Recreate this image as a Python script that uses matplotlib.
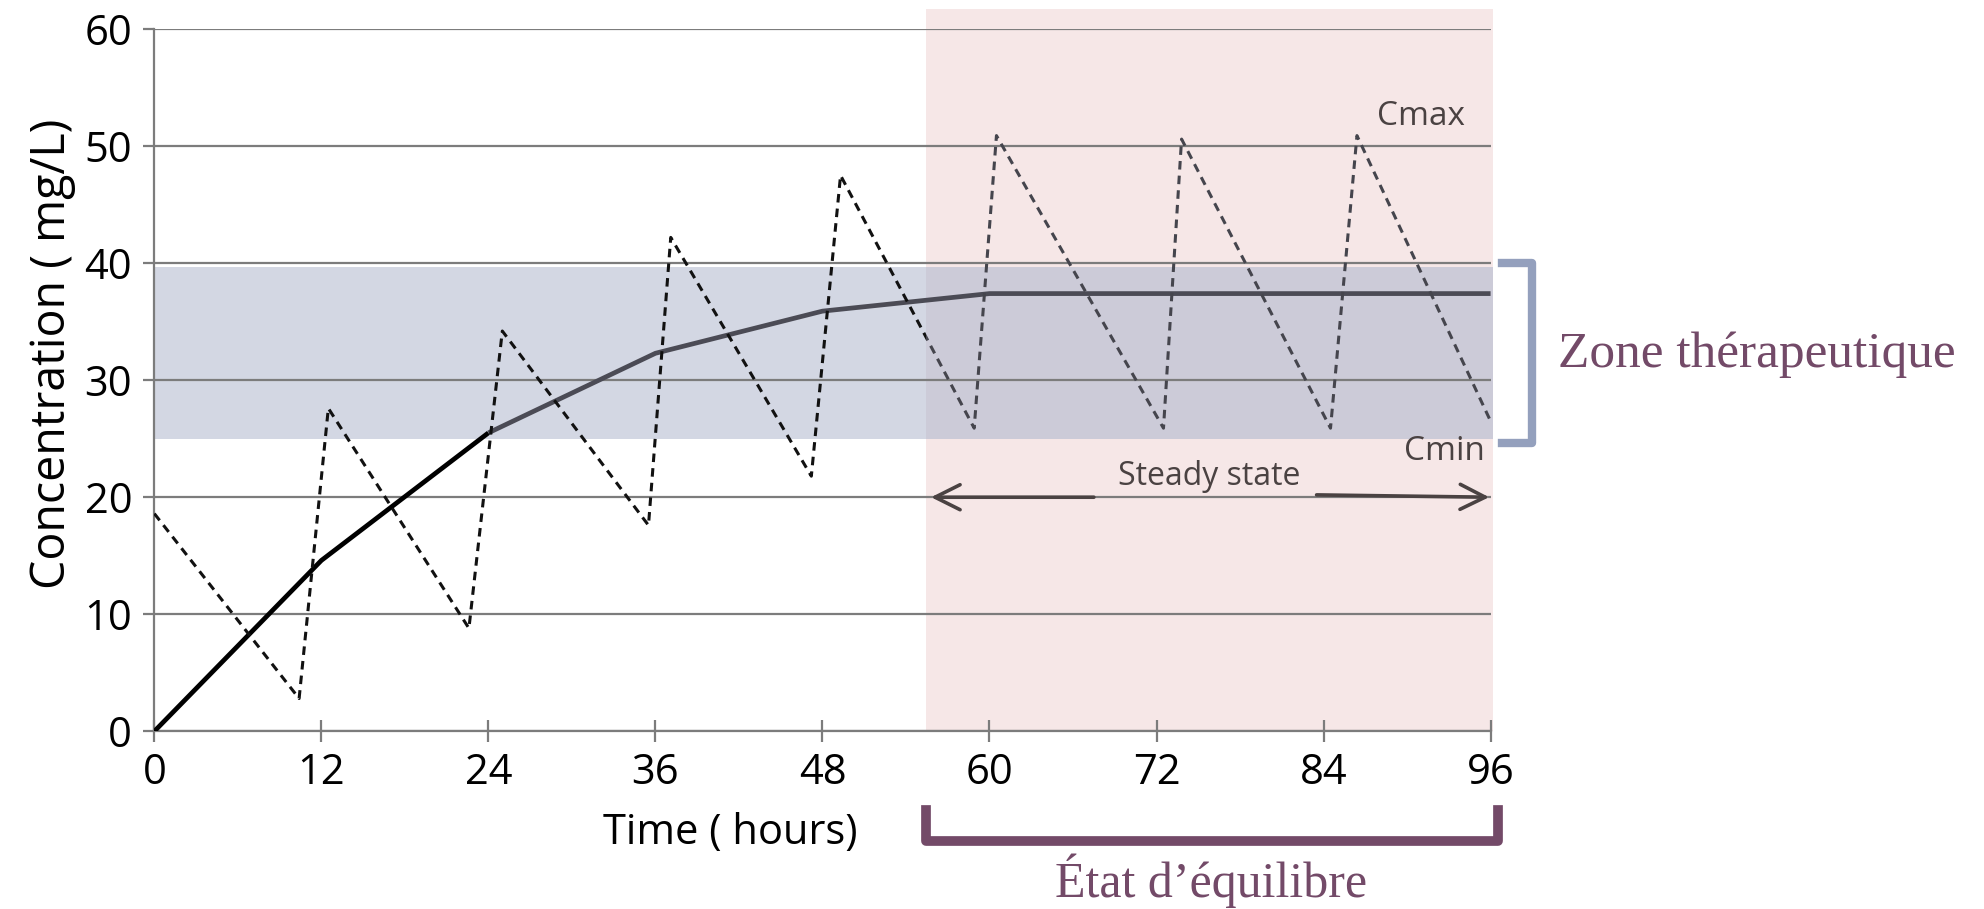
import matplotlib
matplotlib.use("Agg")
import matplotlib.pyplot as plt
from matplotlib.patches import Rectangle

# ── Data ──────────────────────────────────────────────────────────────────────

x_ticks = [0, 12, 24, 36, 48, 60, 72, 84, 96]
y_ticks = [0, 10, 20, 30, 40, 50, 60]

# mean concentration (solid line)
mean_t = [0, 12, 24, 36, 48, 60, 96]
mean_c = [0, 14.6, 25.5, 32.3, 35.9, 37.4, 37.4]

# actual concentration after repeated doses (dashed sawtooth)
dose_t = [0, 10.4, 12.5, 22.6, 25.0, 35.5, 37.1, 47.2, 49.3,
          58.9, 60.5, 72.5, 73.8, 84.5, 86.4, 96.0]
dose_c = [18.6, 2.8, 27.6, 8.8, 34.2, 17.6, 42.2, 21.8, 47.5,
          25.9, 50.9, 25.9, 50.6, 25.9, 50.9, 26.5]

therapeutic_zone = (25.0, 39.7)
steady_start = 55.45

# ── Style ─────────────────────────────────────────────────────────────────────

GRID = "#7c7c7c"
PINK = "#f6e7e7"
BLUE = "#d3d7e3"
OVERLAP = "#cccbd8"
BRACKET_BLUE = "#94a0bd"
PURPLE = "#734a68"
NOTE = "#4a4242"
SANS = "Open Sans"
SERIF = "Liberation Serif"

fig = plt.figure(figsize=(19.84, 9.09), dpi=100)
ax = fig.add_axes([0.0778, 0.1955, 0.6735, 0.7725])
ax.set_xlim(0, 96)
ax.set_ylim(0, 60)

# shaded regions
x_right = 96.2
ax.add_patch(Rectangle((steady_start, 0), x_right - steady_start, 61.7,
                       facecolor=PINK, edgecolor="none", zorder=0.5, clip_on=False))
lo, hi = therapeutic_zone
ax.add_patch(Rectangle((0, lo), steady_start, hi - lo,
                       facecolor=BLUE, edgecolor="none", zorder=0.6))
ax.add_patch(Rectangle((steady_start, lo), x_right - steady_start, hi - lo,
                       facecolor=OVERLAP, edgecolor="none", zorder=0.6, clip_on=False))

# grid and axes
ax.set_yticks(y_ticks)
ax.set_xticks(x_ticks)
ax.yaxis.grid(True, color=GRID, linewidth=1.6)
ax.xaxis.grid(False)
for side in ("top", "right"):
    ax.spines[side].set_visible(False)
for side in ("left", "bottom"):
    ax.spines[side].set_color(GRID)
    ax.spines[side].set_linewidth(1.6)
ax.tick_params(axis="y", direction="out", length=8, width=1.6, color=GRID,
               labelsize=30, pad=8)
ax.tick_params(axis="x", direction="inout", length=16, width=1.6, color=GRID,
               labelsize=30, pad=7)
for lab in ax.get_xticklabels() + ax.get_yticklabels():
    lab.set_fontfamily(SANS)

ax.set_xlabel("Time ( hours)", fontsize=30, family=SANS, labelpad=13)
ax.xaxis.label.set_x(0.431)
ax.set_ylabel("Concentration ( mg/L)", fontsize=33.5, family=SANS, labelpad=6)
ax.yaxis.label.set_y(0.537)

# mean concentration line
ax.plot(mean_t[:3], mean_c[:3], color="black", linewidth=3.4,
        solid_capstyle="butt", zorder=3)
ax.plot(mean_t[2:], mean_c[2:], color="#4b4b55", linewidth=3.4,
        solid_capstyle="butt", zorder=3)

# dosing sawtooth, darker before steady state, greyer inside it
left_clip = Rectangle((0, -5), steady_start, 70, transform=ax.transData)
right_clip = Rectangle((steady_start, -5), 50, 70, transform=ax.transData)
l1, = ax.plot(dose_t, dose_c, color="#111111", linewidth=2.2,
              linestyle=(0, (2.8, 2.0)), zorder=3)
l1.set_clip_path(left_clip)
l2, = ax.plot(dose_t, dose_c, color="#45454d", linewidth=2.2,
              linestyle=(0, (2.8, 2.0)), zorder=3)
l2.set_clip_path(right_clip)

# annotations
ax.text(91.0, 52.5, "Cmax", fontsize=24, family=SANS, color=NOTE,
        ha="center", va="center", zorder=4)
ax.text(92.7, 23.9, "Cmin", fontsize=24, family=SANS, color=NOTE,
        ha="center", va="center", zorder=4)
ax.text(75.8, 21.8, "Steady state", fontsize=23, family=SANS, color=NOTE,
        ha="center", va="center", zorder=4)
arrow = dict(arrowstyle="->,head_length=0.9,head_width=0.45", color=NOTE,
             linewidth=2.6, shrinkA=0, shrinkB=0, mutation_scale=20)
ax.annotate("", xy=(55.8, 20.0), xytext=(67.5, 20.0), arrowprops=arrow, zorder=4)
ax.annotate("", xy=(95.9, 20.0), xytext=(83.5, 20.2), arrowprops=arrow, zorder=4)

# therapeutic zone bracket
ax.plot([96.8, 99.0, 99.0, 96.8], [hi + 0.3, hi + 0.3, lo - 0.4, lo - 0.4],
        color=BRACKET_BLUE, linewidth=6, solid_joinstyle="round",
        clip_on=False, zorder=4)
ax.text(115.1, 32.2, "Zone thérapeutique", fontsize=37, family=SERIF,
        color=PURPLE, ha="center", va="center")

# steady state bracket under the x axis
ax.plot([steady_start, steady_start, 96.5, 96.5], [-6.7, -9.4, -9.4, -6.7],
        color=PURPLE, linewidth=7, solid_joinstyle="round",
        clip_on=False, zorder=4)
ax.text(75.9, -12.8, "État d’équilibre", fontsize=36, family=SERIF,
        color=PURPLE, ha="center", va="center")

fig.savefig("out.png", dpi=100)
